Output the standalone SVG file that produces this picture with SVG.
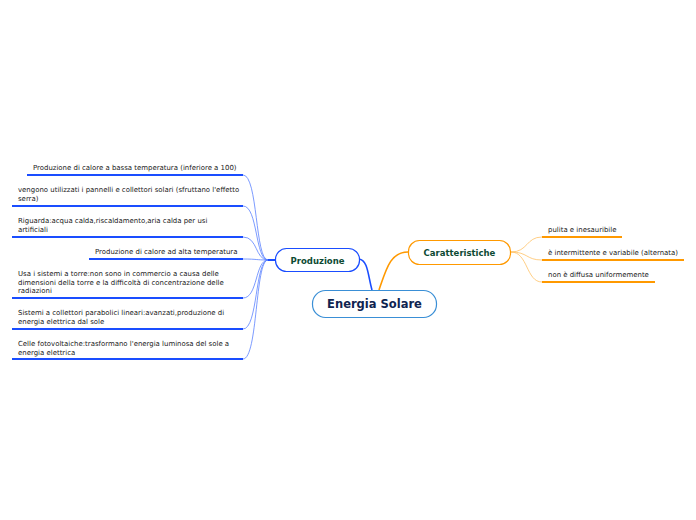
<svg xmlns="http://www.w3.org/2000/svg" width="696" height="520" viewBox="0 0 696 520">
<style>
.t{font-family:"DejaVu Sans",Verdana,sans-serif;font-size:6.95px;fill:#1a1a1a}
.ul{stroke:#1a4dff;stroke-width:2;fill:none}
.ulo{stroke:#ff9900;stroke-width:2;fill:none}
.cb{stroke:#5b82ff;stroke-width:0.8;fill:none}
.co{stroke:#ffc266;stroke-width:0.8;fill:none}
.nt{font-family:"DejaVu Sans",Verdana,sans-serif;font-weight:bold;fill:#0d4a33;text-anchor:middle}
</style>
<rect width="696" height="520" fill="#fff"/>
<g id="connectors">
<path d="M372 290 C368 276 368 260 359 259" stroke="#1a4dff" stroke-width="1.6" fill="none"/>
<path d="M379 290 C386 270 390 252 408 252" stroke="#ff9900" stroke-width="1.6" fill="none"/>
<path d="M266 260 L275 260" stroke="#1a4dff" stroke-width="2" fill="none"/>
<path class="cb" d="M268 260 C255 260 258 175 243 175"/>
<path class="cb" d="M268 260 C255 260 258 206 243 206"/>
<path class="cb" d="M268 260 C255 260 258 237 243 237"/>
<path class="cb" d="M268 260 C255 260 258 259 243 259"/>
<path class="cb" d="M268 260 C255 260 258 298 243 298"/>
<path class="cb" d="M268 260 C255 260 258 329 243 329"/>
<path class="cb" d="M268 260 C255 260 258 359 243 359"/>
<path class="co" d="M511 252 C528 252 526 237 542 237"/>
<path class="co" d="M511 252 C528 252 526 260 542 260"/>
<path class="co" d="M511 252 C528 252 526 282 542 282"/>
</g>
<g id="central">
<rect x="312.5" y="290.5" width="124" height="27" rx="13" fill="#fff" stroke="#3a8fd6" stroke-width="1.2"/>
<text class="nt" x="374.5" y="308" font-size="11.5" style="fill:#0f2450">Energia Solare</text>
</g>
<g id="produzione">
<rect x="275.5" y="248.5" width="84" height="23" rx="11" fill="#fff" stroke="#1a4dff" stroke-width="1.2"/>
<text class="nt" x="317.5" y="263.5" font-size="8.5">Produzione</text>
</g>
<g id="caratteristiche">
<rect x="408.5" y="240.5" width="102" height="24" rx="11" fill="#fff" stroke="#ff9900" stroke-width="1.2"/>
<text class="nt" x="459.5" y="256" font-size="8.5">Caratteristiche</text>
</g>
<g id="p1"><text class="t" x="33" y="170">Produzione di calore a bassa temperatura (inferiore a 100)</text><path class="ul" d="M27 175 H243"/></g>
<g id="p2"><text class="t" x="18" y="192">vengono utilizzati i pannelli e collettori solari (sfruttano l'effetto</text><text class="t" x="18" y="200.5">serra)</text><path class="ul" d="M12 206 H243"/></g>
<g id="p3"><text class="t" x="18" y="223">Riguarda:acqua calda,riscaldamento,aria calda per usi</text><text class="t" x="18" y="231.5">artificiali</text><path class="ul" d="M12 237 H243"/></g>
<g id="p4"><text class="t" x="95" y="254">Produzione di calore ad alta temperatura</text><path class="ul" d="M89 259 H243"/></g>
<g id="p5"><text class="t" x="18" y="276">Usa i sistemi a torre:non sono in commercio a causa delle</text><text class="t" x="18" y="284.5">dimensioni della torre e la difficoltà di concentrazione delle</text><text class="t" x="18" y="293">radiazioni</text><path class="ul" d="M12 298 H243"/></g>
<g id="p6"><text class="t" x="18" y="315">Sistemi a collettori parabolici lineari:avanzati,produzione di</text><text class="t" x="18" y="323.5">energia elettrica dal sole</text><path class="ul" d="M12 329 H243"/></g>
<g id="p7"><text class="t" x="18" y="346">Celle fotovoltaiche:trasformano l'energia luminosa del sole a</text><text class="t" x="18" y="354.5">energia elettrica</text><path class="ul" d="M12 359 H243"/></g>
<g id="c1"><text class="t" x="548" y="232">pulita e inesauribile</text><path class="ulo" d="M542 237 H622"/></g>
<g id="c2"><text class="t" x="548" y="255">è intermittente e variabile (alternata)</text><path class="ulo" d="M542 260 H684"/></g>
<g id="c3"><text class="t" x="548" y="277">non è diffusa uniformemente</text><path class="ulo" d="M542 282 H655"/></g>
</svg>
